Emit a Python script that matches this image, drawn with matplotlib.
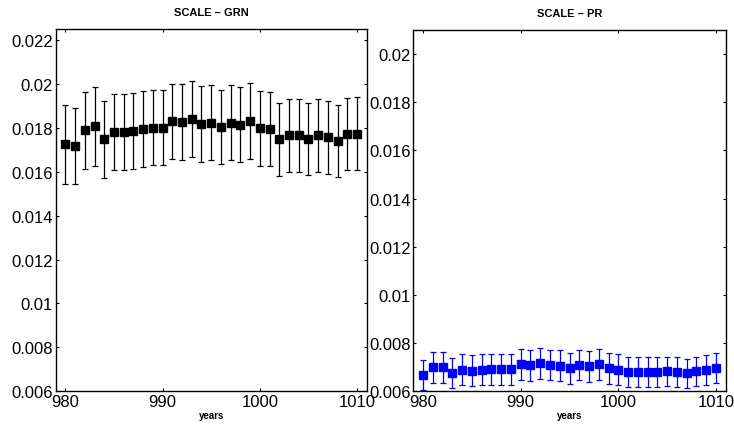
import matplotlib
matplotlib.use('Agg')
import matplotlib.pyplot as plt
import numpy as np

plt.rcParams['font.family'] = ['Liberation Sans', 'DejaVu Sans']

# years on x axis
years = np.arange(980, 1011)

# SCALE - GRN (black)
grn_mean = [0.01724, 0.01719, 0.01789, 0.01806, 0.01747, 0.01783, 0.01783, 0.01786,
            0.01794, 0.01800, 0.01800, 0.01830, 0.01826, 0.01839, 0.01818, 0.01824,
            0.01803, 0.01824, 0.01815, 0.01830, 0.01797, 0.01794, 0.01747, 0.01765,
            0.01765, 0.01748, 0.01766, 0.01757, 0.01741, 0.01771, 0.01774]
grn_err = [0.00178, 0.00173, 0.00175, 0.00178, 0.00175, 0.00173, 0.00173, 0.00172,
           0.00172, 0.00170, 0.00170, 0.00170, 0.00173, 0.00172, 0.00173, 0.00172,
           0.00169, 0.00170, 0.00170, 0.00172, 0.00172, 0.00169, 0.00167, 0.00166,
           0.00166, 0.00164, 0.00167, 0.00166, 0.00164, 0.00164, 0.00166]

# SCALE - PR (blue)
pr_mean = [0.00667, 0.00699, 0.00699, 0.00676, 0.00690, 0.00685, 0.00690, 0.00692,
           0.00692, 0.00692, 0.00713, 0.00709, 0.00716, 0.00709, 0.00706, 0.00695,
           0.00709, 0.00703, 0.00713, 0.00695, 0.00690, 0.00679, 0.00679, 0.00681,
           0.00679, 0.00683, 0.00679, 0.00674, 0.00683, 0.00690, 0.00696]
pr_err = [0.000621, 0.000642, 0.000635, 0.000642, 0.000635, 0.000642, 0.000642, 0.000642,
          0.000642, 0.000642, 0.000642, 0.000642, 0.000649, 0.000635, 0.000635, 0.000628,
          0.000635, 0.000635, 0.000642, 0.000635, 0.000628, 0.000621, 0.000621, 0.000621,
          0.000621, 0.000607, 0.000614, 0.000614, 0.000614, 0.000621, 0.000621]

xticks = [980, 990, 1000, 1010]

fig = plt.figure(figsize=(7.34, 4.31), dpi=100)
ax1 = fig.add_axes([0.0759, 0.0898, 0.4237, 0.8406])
ax2 = fig.add_axes([0.5631, 0.0898, 0.4256, 0.8383])


def style(ax, ylim, yticks, title):
    ax.set_xlim(979, 1011)
    ax.set_ylim(*ylim)
    ax.set_xticks(xticks)
    ax.set_yticks(yticks)
    ax.set_yticklabels(['%g' % t for t in yticks])
    ax.tick_params(direction='in', length=2.5, width=0.8, labelsize=12,
                   top=True, right=True, pad=2)
    for s in ax.spines.values():
        s.set_linewidth(1.0)
    ax.set_title(title, fontsize=8, fontweight='bold', pad=10)
    ax.set_xlabel('years', fontsize=7, fontweight='bold', labelpad=1)


ax1.errorbar(years, grn_mean, yerr=grn_err, fmt='s', color='black', ecolor='black',
             markersize=5.5, capsize=2.3, elinewidth=0.9, capthick=0.9)
style(ax1, (0.006, 0.0225), [0.006, 0.008, 0.01, 0.012, 0.014, 0.016, 0.018, 0.02, 0.022],
      'SCALE \u2013 GRN')

ax2.errorbar(years, pr_mean, yerr=pr_err, fmt='s', color='blue', ecolor='blue',
             markersize=5.5, capsize=2.4, elinewidth=0.9, capthick=0.9)
style(ax2, (0.006, 0.021), [0.006, 0.008, 0.01, 0.012, 0.014, 0.016, 0.018, 0.02],
      'SCALE \u2013 PR')

fig.savefig('out.png', dpi=100)
